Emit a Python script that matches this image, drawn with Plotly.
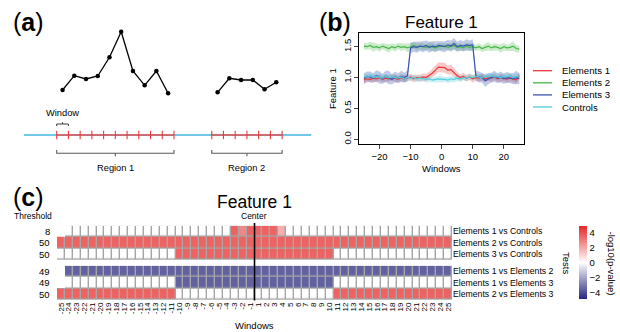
import plotly.graph_objects as go

W, H = 620, 332
FONT = "Liberation Sans, Arial, Helvetica, sans-serif"


def px(x):
    return x / W


def py(y):
    return 1 - y / H


# ---------------- Panel (a): schematic ----------------
region1_signal = [4.5, 5.93, 5.6, 5.9, 7.77, 10.33, 6.4, 4.97, 6.4, 4.17]
region2_signal = [4.27, 5.67, 5.5, 5.5, 4.57, 5.27]
region_starts = [0.0, 13.22]
region_labels = ["Region 1", "Region 2"]
genome_span = [-2.8, 21.7]

# ---------------- Panel (b): profile ----------------
windows = [-25, -24, -23, -22, -21, -20, -19, -18, -17, -16,
           -15, -14, -13, -12, -11, -10, -9, -8, -7, -6,
           -5, -4, -3, -2, -1, 1, 2, 3, 4, 5,
           6, 7, 8, 9, 10, 11, 12, 13, 14, 15,
           16, 17, 18, 19, 20, 21, 22, 23, 24, 25]

e1_mean = [0.96, 0.98, 0.97, 0.99, 0.98, 1.00, 0.97, 0.99, 0.98, 1.00,
           0.99, 0.97, 1.00, 0.98, 0.99, 1.01, 0.98, 1.00, 0.99, 1.01,
           1.00, 1.03, 1.07, 1.12, 1.17, 1.16, 1.12, 1.13, 1.08, 1.03,
           1.00, 1.02, 0.99, 1.01, 0.98, 1.00, 0.99, 1.01, 0.98, 1.00,
           0.99, 1.01, 0.98, 1.00, 0.99, 0.97, 1.00, 0.98, 0.96, 1.03]
e2_mean = [1.51, 1.50, 1.52, 1.49, 1.50, 1.48, 1.51, 1.49, 1.47, 1.50,
           1.48, 1.51, 1.49, 1.50, 1.48, 1.50, 1.52, 1.49, 1.51, 1.50,
           1.49, 1.51, 1.50, 1.48, 1.50, 1.51, 1.49, 1.50, 1.52, 1.49,
           1.50, 1.48, 1.51, 1.49, 1.50, 1.48, 1.50, 1.47, 1.49, 1.51,
           1.48, 1.50, 1.49, 1.47, 1.50, 1.48, 1.49, 1.51, 1.47, 1.46]
e3_mean = [0.98, 1.02, 1.01, 0.99, 1.03, 1.00, 0.98, 1.02, 1.00, 0.97,
           1.01, 0.99, 1.02, 1.00, 1.03, 1.48, 1.50, 1.49, 1.51, 1.50,
           1.52, 1.49, 1.51, 1.50, 1.52, 1.50, 1.53, 1.51, 1.55, 1.50,
           1.52, 1.51, 1.53, 1.52, 1.53, 1.03, 1.01, 1.00, 0.95, 0.98,
           1.00, 1.02, 0.99, 1.01, 0.98, 1.00, 0.99, 0.98, 1.00, 0.98]
ctrl_mean = [1.02, 1.01, 1.03, 1.00, 1.02, 1.01, 0.99, 1.02, 1.00, 1.01,
             1.00, 0.99, 1.01, 0.98, 1.00, 0.99, 1.00, 0.98, 0.99, 0.98,
             0.97, 0.98, 0.96, 0.97, 0.98, 0.97, 0.96, 0.98, 0.97, 0.99,
             0.98, 1.00, 0.99, 1.01, 1.00, 1.02, 1.01, 1.00, 1.02, 1.01,
             1.03, 1.01, 1.02, 1.00, 1.02, 1.01, 1.03, 1.00, 1.02, 1.01]

e1_se = [0.05, 0.06, 0.05, 0.05, 0.06, 0.05, 0.05, 0.06, 0.05, 0.05,
         0.06, 0.05, 0.05, 0.06, 0.05, 0.05, 0.06, 0.05, 0.05, 0.06,
         0.06, 0.06, 0.07, 0.08, 0.08, 0.08, 0.07, 0.08, 0.07, 0.06,
         0.05, 0.06, 0.05, 0.05, 0.06, 0.05, 0.05, 0.06, 0.05, 0.05,
         0.06, 0.05, 0.05, 0.06, 0.05, 0.05, 0.06, 0.05, 0.06, 0.05]
e2_se = [0.06, 0.05, 0.06, 0.07, 0.05, 0.06, 0.05, 0.06, 0.07, 0.05,
         0.06, 0.05, 0.06, 0.05, 0.07, 0.06, 0.05, 0.06, 0.05, 0.06,
         0.05, 0.06, 0.07, 0.05, 0.06, 0.05, 0.06, 0.05, 0.07, 0.06,
         0.05, 0.06, 0.05, 0.06, 0.07, 0.05, 0.06, 0.05, 0.06, 0.07,
         0.05, 0.06, 0.05, 0.07, 0.06, 0.05, 0.06, 0.08, 0.06, 0.05]
e3_se = [0.09, 0.08, 0.09, 0.08, 0.09, 0.10, 0.08, 0.09, 0.11, 0.08,
         0.09, 0.08, 0.09, 0.08, 0.09, 0.09, 0.08, 0.09, 0.08, 0.09,
         0.08, 0.09, 0.08, 0.09, 0.08, 0.09, 0.08, 0.09, 0.09, 0.08,
         0.09, 0.08, 0.09, 0.08, 0.09, 0.08, 0.09, 0.08, 0.10, 0.09,
         0.08, 0.09, 0.08, 0.09, 0.08, 0.09, 0.08, 0.09, 0.11, 0.09]
ctrl_se = [0.05, 0.04, 0.05, 0.05, 0.04, 0.05, 0.05, 0.04, 0.05, 0.05,
           0.04, 0.05, 0.05, 0.04, 0.05, 0.05, 0.04, 0.05, 0.05, 0.04,
           0.05, 0.05, 0.04, 0.05, 0.05, 0.04, 0.05, 0.05, 0.04, 0.05,
           0.05, 0.04, 0.05, 0.05, 0.04, 0.05, 0.05, 0.04, 0.05, 0.05,
           0.04, 0.05, 0.05, 0.04, 0.05, 0.05, 0.04, 0.05, 0.05, 0.04]

series_names = ["Elements 1", "Elements 2", "Elements 3", "Controls"]
series_colors = ["rgb(236,56,56)", "rgb(70,182,70)", "rgb(58,86,178)", "rgb(84,204,222)"]
series_fills = ["rgba(236,56,56,0.28)", "rgba(70,182,70,0.28)",
                "rgba(58,86,178,0.32)", "rgba(84,204,222,0.32)"]

# ---------------- Panel (c): heatmap ----------------
tests_top = ["Elements 1 vs Controls", "Elements 2 vs Controls", "Elements 3 vs Controls"]
tests_bottom = ["Elements 1 vs Elements 2", "Elements 1 vs Elements 3", "Elements 2 vs Elements 3"]
thresholds_top = [8, 50, 50]
thresholds_bottom = [49, 49, 50]

N = None
z_e1_ctrl = [N, 0, 0, 0, 0, 0, 0, 0, 0, 0,
             0, 0, 0, 0, 0, 0, 0, 0, 0, 0,
             0, 0, 3.5, 2.7, 3.5, 3.5, 3.5, 3.5, 1.8, 0,
             0, 0, 0, 0, 0, 0, 0, 0, 0, 0,
             0, 0, 0, 0, 0, 0, 0, 0, 0, 0]
z_e2_ctrl = [3.5] * 50
z_e3_ctrl = [0, 0, 0, 0, 0, 0, 0, 0, 0, 0,
             0, 0, 0, 0, 0, 3.5, 3.5, 3.5, 3.5, 3.5,
             3.5, 3.5, 3.5, 3.5, 3.5, 3.5, 3.5, 3.5, 3.5, 3.5,
             3.5, 3.5, 3.5, 3.5, 3.5, 0, 0, 0, 0, 0,
             0, 0, 0, 0, 0, 0, 0, 0, 0, 0]
z_e1_e2 = [N] + [-3.5] * 49
z_e1_e3 = [N, 0, 0, 0, 0, 0, 0, 0, 0, 0,
           0, 0, 0, 0, 0, -3.5, -3.5, -3.5, -3.5, -3.5,
           -3.5, -3.5, -3.5, -3.5, -3.5, -3.5, -3.5, -3.5, -3.5, -3.5,
           -3.5, -3.5, -3.5, -3.5, -3.5, 0, 0, 0, 0, 0,
           0, 0, 0, 0, 0, 0, 0, 0, 0, 0]
z_e2_e3 = [3.5, 3.5, 3.5, 3.5, 3.5, 3.5, 3.5, 3.5, 3.5, 3.5,
           3.5, 3.5, 3.5, 3.5, 3.5, 0, 0, 0, 0, 0,
           0, 0, 0, 0, 0, 0, 0, 0, 0, 0,
           0, 0, 0, 0, 0, 3.5, 3.5, 3.5, 3.5, 3.5,
           3.5, 3.5, 3.5, 3.5, 3.5, 3.5, 3.5, 3.5, 3.5, 3.5]
color_limit = 4.85
colorbar_ticks = [-4, -2, 0, 2, 4]

fig = go.Figure()

# ======== Panel (a) ========
AX_A = dict(xaxis="x3", yaxis="y3", showlegend=False, hoverinfo="skip")
fig.add_trace(go.Scatter(x=genome_span, y=[0, 0], mode="lines",
                         line=dict(color="rgb(64,182,224)", width=1.6), **AX_A))
for start, sig, lab in zip(region_starts, [region1_signal, region2_signal], region_labels):
    n = len(sig)
    edges = [start + i for i in range(n + 1)]
    centers = [start + i + 0.5 for i in range(n)]
    fig.add_trace(go.Scatter(x=[edges[0], edges[-1]], y=[0, 0], mode="lines",
                             line=dict(color="rgb(232,80,80)", width=1.6), **AX_A))
    tx, ty = [], []
    for e in edges:
        tx += [e, e, None]
        ty += [-0.42, 0.42, None]
    fig.add_trace(go.Scatter(x=tx, y=ty, mode="lines",
                             line=dict(color="rgb(232,60,60)", width=1.1), **AX_A))
    fig.add_trace(go.Scatter(x=centers, y=sig, mode="lines+markers",
                             line=dict(color="black", width=1.3),
                             marker=dict(size=4.5, color="black"), **AX_A))
    mid = (edges[0] + edges[-1]) / 2
    fig.add_trace(go.Scatter(
        x=[edges[0], edges[0], edges[-1], edges[-1], None, mid, mid],
        y=[-1.5, -1.83, -1.83, -1.5, None, -1.83, -2.12], mode="lines",
        line=dict(color="rgb(90,90,90)", width=1.1), **AX_A))
    fig.add_annotation(x=mid, y=-3.25, xref="x3", yref="y3", text=lab, showarrow=False,
                       font=dict(size=9.3, color="black", family=FONT))

# window brace
w0 = region_starts[0]
fig.add_trace(go.Scatter(
    x=[w0, w0, w0 + 1, w0 + 1, None, w0 + 0.5, w0 + 0.5],
    y=[0.9, 1.1, 1.1, 0.9, None, 1.1, 1.28], mode="lines",
    line=dict(color="rgb(60,60,60)", width=1.0), **AX_A))
fig.add_annotation(x=w0 + 0.5, y=2.2, xref="x3", yref="y3", text="Window", showarrow=False,
                   font=dict(size=9.3, color="black", family=FONT))

# ======== Panel (b) ========
means = [e1_mean, e2_mean, e3_mean, ctrl_mean]
ses = [e1_se, e2_se, e3_se, ctrl_se]
for m, s, fc in zip(means, ses, series_fills):
    lo = [a - b for a, b in zip(m, s)]
    hi = [a + b for a, b in zip(m, s)]
    fig.add_trace(go.Scatter(x=windows, y=lo, mode="lines", line=dict(width=0),
                             xaxis="x2", yaxis="y2", showlegend=False, hoverinfo="skip"))
    fig.add_trace(go.Scatter(x=windows, y=hi, mode="lines", line=dict(width=0),
                             fill="tonexty", fillcolor=fc,
                             xaxis="x2", yaxis="y2", showlegend=False, hoverinfo="skip"))
for m, c, nm in zip(means, series_colors, series_names):
    fig.add_trace(go.Scatter(x=windows, y=m, mode="lines", name=nm,
                             line=dict(color=c, width=1.2),
                             xaxis="x2", yaxis="y2", showlegend=False))

# manual legend
for i, (nm, c) in enumerate(zip(series_names, series_colors)):
    yy = 70.7 + 12.1 * i
    fig.add_shape(type="line", xref="paper", yref="paper", x0=px(533), x1=px(552),
                  y0=py(yy), y1=py(yy), line=dict(color=c, width=1.3))
    fig.add_annotation(x=px(560), y=py(yy), xref="paper", yref="paper", text=nm,
                       showarrow=False, xanchor="left", yanchor="middle",
                       font=dict(size=9.6, color="black", family=FONT))

# ======== Panel (c) ========
xidx = list(range(len(windows)))
top_z = [z_e1_ctrl, z_e2_ctrl, z_e3_ctrl]
bot_z = [z_e1_e2, z_e1_e3, z_e2_e3]
for zz, ya in [(top_z, "y5"), (bot_z, "y6")]:
    mask = [[(1 if v is not None else None) for v in row] for row in zz]
    fig.add_trace(go.Heatmap(z=mask, x=xidx, y=[0, 1, 2], xaxis="x4", yaxis=ya,
                             colorscale=[[0, "rgb(165,165,165)"], [1, "rgb(165,165,165)"]],
                             showscale=False, hoverinfo="skip"))
    fig.add_trace(go.Heatmap(z=zz, x=xidx, y=[0, 1, 2], xaxis="x4", yaxis=ya,
                             coloraxis="coloraxis", xgap=1.4, ygap=1.4, hoverinfo="skip"))

for i, t in enumerate(thresholds_top):
    fig.add_annotation(x=px(52.5), y=i, xref="paper", yref="y5", text=str(t), showarrow=False,
                       xanchor="right", font=dict(size=9.5, color="black", family=FONT))
for i, t in enumerate(thresholds_bottom):
    fig.add_annotation(x=px(52.5), y=i, xref="paper", yref="y6", text=str(t), showarrow=False,
                       xanchor="right", font=dict(size=9.5, color="black", family=FONT))

center_x = windows.index(-1) + 0.5
fig.add_shape(type="line", xref="x4", yref="paper", x0=center_x, x1=center_x,
              y0=py(300.5), y1=py(223), line=dict(color="black", width=1.6))

# ======== Text annotations ========
def ann(x, y, text, size, angle=0, xanchor="center"):
    fig.add_annotation(x=px(x), y=py(y), xref="paper", yref="paper", text=text,
                       showarrow=False, textangle=angle, xanchor=xanchor, yanchor="middle",
                       font=dict(size=size, color="black", family=FONT))

ann(11, 22, "(<b>a</b>)", 25, xanchor="left")
ann(317, 22, "(<b>b</b>)", 25, xanchor="left")
ann(11, 197, "(<b>c</b>)", 25, xanchor="left")
ann(441, 23, "Feature 1", 17)
ann(332, 89, "Feature 1", 9.5, angle=-90)
ann(441, 168, "Windows", 9.5)
ann(254, 201.5, "Feature 1", 17.5)
ann(254, 216, "Center", 8.5)
ann(33, 216, "Threshold", 8.5)
ann(254, 325, "Windows", 9.5)
ann(567, 263, "Tests", 9.5, angle=90)
ann(611.5, 263, "-log10(p-value)", 9.5, angle=90)

axis_font = dict(size=9.5, color="black", family=FONT)

fig.update_layout(
    width=W, height=H, margin=dict(l=0, r=0, t=0, b=0),
    paper_bgcolor="white", plot_bgcolor="white", showlegend=False,
    font=dict(family=FONT, color="black"),
    xaxis3=dict(domain=[0, px(320)], range=[-4.834, 22.45], visible=False, anchor="y3"),
    yaxis3=dict(domain=[py(175), 1], range=[-4, 13.5], visible=False, anchor="x3"),
    xaxis2=dict(domain=[px(359.3), px(524)], range=[-26.5, 26.5], anchor="y2",
                tickvals=[-20, -10, 0, 10, 20], ticks="outside", ticklen=4, tickwidth=1,
                showline=True, mirror=True, linecolor="black", linewidth=1,
                showgrid=False, zeroline=False, tickfont=axis_font),
    yaxis2=dict(domain=[py(144), py(33.3)], range=[-0.076, 1.717], anchor="x2",
                tickvals=[0, 0.5, 1.0, 1.5], tickformat=".1f", tickangle=-90,
                ticks="outside", ticklen=4, tickwidth=1,
                showline=True, mirror=True, linecolor="black", linewidth=1,
                showgrid=False, zeroline=False, tickfont=axis_font),
    xaxis4=dict(domain=[px(57), px(452)], range=[-0.5, len(windows) - 0.5], anchor="y6",
                tickvals=xidx, ticktext=[str(w) for w in windows], tickangle=-90,
                ticks="", showgrid=False, zeroline=False, showline=False,
                tickfont=dict(size=8, color="black", family=FONT)),
    yaxis5=dict(domain=[py(260), py(225.7)], range=[2.5, -0.5], anchor="x4", side="right",
                tickvals=[0, 1, 2], ticktext=tests_top, ticks="", showgrid=False,
                zeroline=False, showline=False,
                tickfont=dict(size=8.7, color="black", family=FONT)),
    yaxis6=dict(domain=[py(300), py(265.7)], range=[2.5, -0.5], anchor="x4", side="right",
                tickvals=[0, 1, 2], ticktext=tests_bottom, ticks="", showgrid=False,
                zeroline=False, showline=False,
                tickfont=dict(size=8.7, color="black", family=FONT)),
    coloraxis=dict(
        colorscale=[[0, "rgb(38,38,128)"], [0.5, "rgb(255,255,255)"], [1, "rgb(232,38,38)"]],
        cmin=-color_limit, cmax=color_limit,
        colorbar=dict(x=px(579.3), xanchor="left", xref="paper", xpad=0, ypad=0,
                      y=py(262.65), yanchor="middle", len=73.3 / H, lenmode="fraction",
                      thickness=8, outlinewidth=0, tickvals=colorbar_ticks,
                      ticks="", tickfont=dict(size=9.5, color="black", family=FONT)),
    ),
)

fig.write_html("out.html", config={"displayModeBar": False},
               post_script="document.body.style.margin='0px';document.body.style.overflow='hidden';")
